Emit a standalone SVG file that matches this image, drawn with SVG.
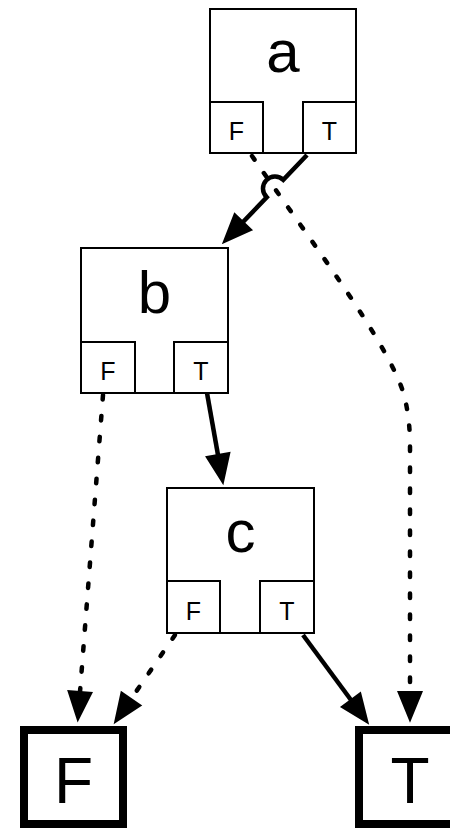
<svg xmlns="http://www.w3.org/2000/svg" width="450" height="830" viewBox="0 0 450 830">
<style>
.box{fill:#fff;stroke:#000;stroke-width:2}
.term{fill:#fff;stroke:#000;stroke-width:8}
.lbl{font-family:"Liberation Sans",Arial,sans-serif;font-size:60px;text-anchor:middle;fill:#000}
.port{font-family:"Liberation Sans",Arial,sans-serif;font-size:25px;text-anchor:middle;fill:#000}
.tl{font-family:"Liberation Sans",Arial,sans-serif;font-size:64px;text-anchor:middle;fill:#000}
.solid{fill:none;stroke:#000;stroke-width:4.5}
.dot{fill:none;stroke:#000;stroke-width:4.5;stroke-linecap:round;stroke-dasharray:4.5 16.5}
</style>
<defs>
<marker id="arr" markerUnits="userSpaceOnUse" viewBox="-2 -14 34 28" refX="0" refY="0" markerWidth="34" markerHeight="28" orient="auto">
<path d="M0,-11.5 L28,0 L0,11.5 Z" fill="#000" stroke="#000" stroke-width="2" stroke-linejoin="miter"/>
</marker>
</defs>
<rect width="450" height="830" fill="#fff"/>
<g id="node-a">
<rect class="box" x="210" y="9" width="146" height="144"/>
<rect class="box" x="210" y="102" width="53" height="51"/>
<rect class="box" x="303" y="102" width="53" height="51"/>
<text class="lbl" x="283" y="72">a</text>
<text class="port" x="236.5" y="140">F</text>
<text class="port" x="329.5" y="140">T</text>
</g>
<g id="node-b">
<rect class="box" x="81" y="248" width="147" height="145"/>
<rect class="box" x="81" y="342" width="54" height="51"/>
<rect class="box" x="174" y="342" width="54" height="51"/>
<text class="lbl" x="154.5" y="313">b</text>
<text class="port" x="108" y="380">F</text>
<text class="port" x="201" y="380">T</text>
</g>
<g id="node-c">
<rect class="box" x="167" y="488" width="147" height="145"/>
<rect class="box" x="167" y="581" width="53" height="52"/>
<rect class="box" x="260" y="581" width="54" height="52"/>
<text class="lbl" x="240.5" y="552">c</text>
<text class="port" x="193.5" y="620">F</text>
<text class="port" x="287" y="620">T</text>
</g>
<g id="node-F">
<rect class="term" x="24" y="730" width="99" height="94"/>
<text class="tl" x="73.5" y="803">F</text>
</g>
<g id="node-T">
<rect class="term" x="359" y="730" width="99" height="94"/>
<text class="tl" x="410" y="803">T</text>
</g>
<g id="edges">
<path class="solid" d="M307,155 L283.3,179.8 A12,12 0 0 0 266.7,197.2 L243,222" marker-end="url(#arr)"/>
<path class="dot" d="M252,156 C310,240 390,345 404,395 Q410,418 410,445 L410,692" marker-end="url(#arr)"/>
<path class="dot" d="M103,395 L80,692" marker-end="url(#arr)"/>
<path class="solid" d="M207,393 L218,455" marker-end="url(#arr)"/>
<path class="dot" d="M175,635 L131,699" marker-end="url(#arr)"/>
<path class="solid" d="M303,635 L351,700" marker-end="url(#arr)"/>
</g>
</svg>
